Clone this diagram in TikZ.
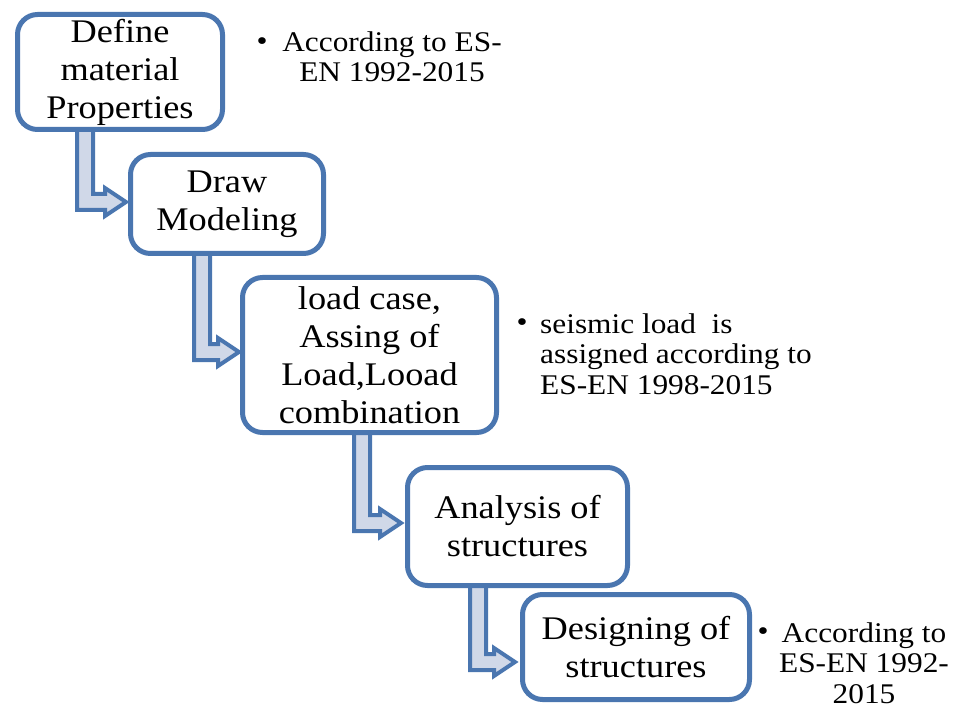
\documentclass[tikz,border=0pt]{standalone}
\usepackage{fontspec}
\setmainfont{Liberation Serif}[FakeStretch=1.1]
\definecolor{bblue}{RGB}{74,118,176}
\definecolor{afill}{RGB}{208,216,232}
\newcommand{\bentarr}[4]{%
  \draw[arrbox] (#1,#2) -- (#1,#3) -- ({#4-21},#3) -- ({#4-21},{#3+6}) -- (#4,{#3-8})
    -- ({#4-21},{#3-22}) -- ({#4-21},{#3-16}) -- ({#1+16},{#3-16}) -- ({#1+16},#2) -- cycle;}
\begin{document}
\begin{tikzpicture}[x=1pt,y=-1pt,
  stepbox/.style={draw=bblue, line width=5pt, rounded corners=20pt, fill=white, align=center,
    inner sep=0pt, font=\fontsize{33}{38}\selectfont},
  arrbox/.style={draw=bblue, line width=4pt, fill=afill, line join=miter},
  note/.style={inner sep=0pt, font=\fontsize{28.5}{30.5}\selectfont},
  dot/.style={inner sep=0pt, font=\fontsize{28.5}{30.5}\selectfont}]
\useasboundingbox (0,0) rectangle (958,711);
% arrows (drawn first, boxes cover their tops)
\bentarr{77}{125}{210}{126}
\bentarr{194}{250}{360}{239}
\bentarr{354}{428}{531}{401}
\bentarr{470}{582}{670}{515}
% boxes
\node[stepbox, minimum width=205pt, minimum height=115pt] (b1) at (120,72) {Define\\material\\Properties};
\node[stepbox, minimum width=193pt, minimum height=99pt] (b2) at (227,204) {Draw\\Modeling};
\node[stepbox, minimum width=254pt, minimum height=155pt] (b3) at (369.5,355) {load case,\\Assing of\\Load,Looad\\combination};
\node[stepbox, minimum width=220pt, minimum height=118pt] (b4) at (517.5,526.5) {Analysis of\\structures};
\node[stepbox, minimum width=227pt, minimum height=105pt] (b5) at (636,647) {Designing of\\structures};
% notes
\node[dot] (d1) at (262,44) {\textbullet};
\node[note, align=center] (n1) at (392,57) {According to ES-\\EN 1992-2015};
\node[dot] (d2) at (522,325) {\textbullet};
\node[note, align=left, anchor=west] (n2) at (540,354) {seismic load\ \ is\\assigned according to\\ES-EN 1998-2015};
\node[dot] (d3) at (763,634) {\textbullet};
\node[note, align=center] (n3) at (864,663) {According to\\ES-EN 1992-\\2015};
\end{tikzpicture}
\end{document}
